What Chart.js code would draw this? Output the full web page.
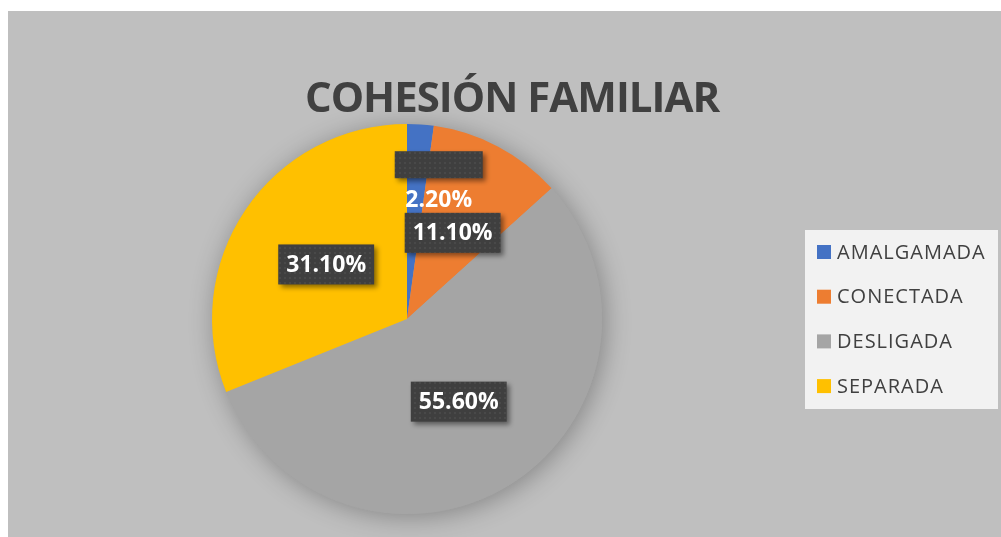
<!DOCTYPE html>
<html><head><meta charset="utf-8">
<script src="https://cdn.jsdelivr.net/npm/chart.js@4.4.0/dist/chart.umd.min.js"></script>
<style>
html,body{margin:0;padding:0;background:#fff;overflow:hidden;}
#wrap{position:absolute;left:8px;top:11px;width:993px;height:526px;background:#bfbfbf;}
</style></head><body>
<div id="wrap"><canvas id="c"></canvas></div>
<script>
const chartTitle = 'COHESIÓN FAMILIAR';
const categories = ['AMALGAMADA', 'CONECTADA', 'DESLIGADA', 'SEPARADA'];
const values = [2.2, 11.1, 55.6, 31.1];
const valueLabels = ['2.20%', '11.10%', '55.60%', '31.10%'];
const colors = ['#4472C4', '#ED7D31', '#A5A5A5', '#FFC000'];

// manual displacement of the small slice's label (as in the original)
const labelTextOffset = [[25, -22], [0, 0], [0, 0], [0, 0]];
const labelBoxOffset = [[25, -57], [0, 0], [0, 0], [0, 0]];
const emptyBox = [true, false, false, false];

function makePattern(ctx) {
  const p = document.createElement('canvas');
  p.width = 5; p.height = 5;
  const g = p.getContext('2d');
  g.fillStyle = '#3f3f3f'; g.fillRect(0, 0, 5, 5);
  g.fillStyle = '#494949'; g.fillRect(1, 1, 2, 2);
  return ctx.createPattern(p, 'repeat');
}

const decor = {
  id: 'decor',
  beforeDatasetsDraw(chart) {
    const ctx = chart.ctx;
    const a = chart.getDatasetMeta(0).data[0];
    ctx.save();
    ctx.shadowColor = 'rgba(0,0,0,0.30)';
    ctx.shadowBlur = 26;
    ctx.shadowOffsetX = 3;
    ctx.shadowOffsetY = 3;
    ctx.fillStyle = '#a5a5a5';
    ctx.beginPath();
    ctx.arc(a.x, a.y, a.outerRadius, 0, Math.PI * 2);
    ctx.fill();
    ctx.restore();
  },
  afterDatasetsDraw(chart) {
    const ctx = chart.ctx;
    const meta = chart.getDatasetMeta(0);
    const pat = makePattern(ctx);
    ctx.save();
    ctx.font = 'bold 23px "Open Sans"';
    ctx.textAlign = 'center';
    ctx.textBaseline = 'middle';
    meta.data.forEach((arc, i) => {
      const p = arc.tooltipPosition();
      const txt = valueLabels[i];
      const tw = ctx.measureText(txt).width;
      let bw = tw + 16, bh = 40;
      if (emptyBox[i]) { bw = 88; bh = 27; }
      const bx = p.x + labelBoxOffset[i][0] - bw / 2;
      const by = p.y + labelBoxOffset[i][1] - bh / 2;
      ctx.save();
      ctx.shadowColor = 'rgba(0,0,0,0.45)';
      ctx.shadowBlur = 5;
      ctx.shadowOffsetX = 3;
      ctx.shadowOffsetY = 3;
      ctx.fillStyle = pat;
      ctx.fillRect(bx, by, bw, bh);
      ctx.restore();
      ctx.fillStyle = '#ffffff';
      ctx.fillText(txt, p.x + labelTextOffset[i][0], p.y + labelTextOffset[i][1] + 1);
    });
    ctx.restore();

    // title
    ctx.save();
    ctx.font = 'bold 42px "Open Sans"';
    ctx.letterSpacing = '-1px';
    ctx.fillStyle = '#404040';
    ctx.textAlign = 'center';
    ctx.textBaseline = 'alphabetic';
    ctx.fillText(chartTitle, 504, 101);
    ctx.restore();

    // legend
    ctx.save();
    ctx.fillStyle = '#f2f2f2';
    ctx.fillRect(797, 219, 193, 179);
    ctx.font = '20px "Open Sans"';
    ctx.letterSpacing = '1px';
    ctx.textBaseline = 'middle';
    ctx.textAlign = 'left';
    categories.forEach((c, i) => {
      const y = 241 + i * 44.7;
      ctx.fillStyle = colors[i];
      ctx.fillRect(809, y - 7, 14, 14);
      ctx.fillStyle = '#404040';
      ctx.fillText(c, 829, y + 1);
    });
    ctx.restore();
  }
};

new Chart(document.getElementById('c'), {
  type: 'pie',
  data: {
    labels: categories,
    datasets: [{
      data: values,
      backgroundColor: colors,
      borderWidth: 0,
      hoverOffset: 0
    }]
  },
  options: {
    responsive: true,
    maintainAspectRatio: false,
    animation: false,
    events: [],
    layout: { padding: { left: 204, right: 399, top: 113, bottom: 23 } },
    plugins: { legend: { display: false }, title: { display: false }, tooltip: { enabled: false } }
  },
  plugins: [decor]
});
</script>
</body></html>
